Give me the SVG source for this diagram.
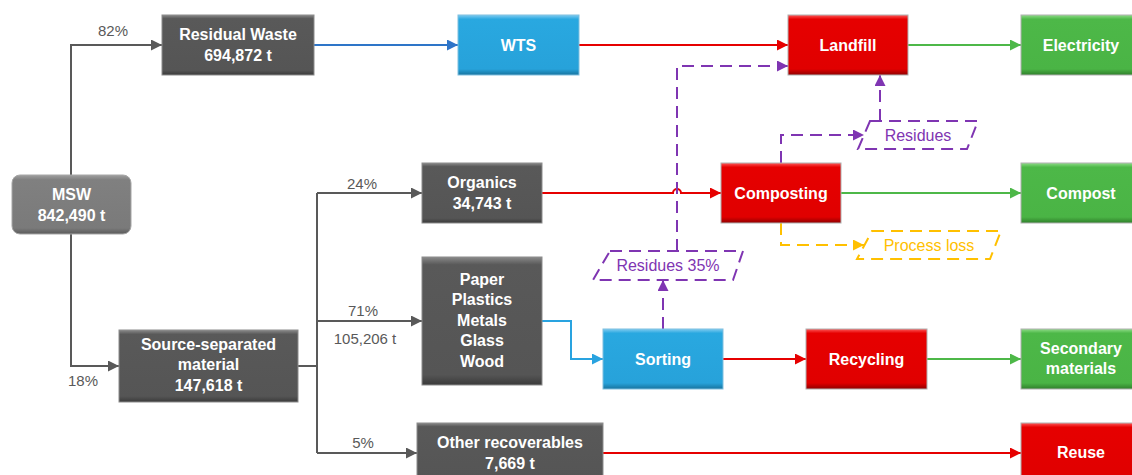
<svg xmlns="http://www.w3.org/2000/svg" width="1132" height="475" viewBox="0 0 1132 475">
<style>
.nt{font-family:"Liberation Sans",Arial,sans-serif;font-weight:bold;font-size:16px;fill:#ffffff;text-anchor:middle}
.lb{font-family:"Liberation Sans",Arial,sans-serif;font-size:15px;fill:#595959;text-anchor:middle}
.pl{font-family:"Liberation Sans",Arial,sans-serif;font-size:16px;text-anchor:middle}
.gray{fill:url(#gGray);stroke:#8c8c8c;stroke-width:1}
.msw{fill:url(#gMsw);stroke:#a6a6a6;stroke-width:1}
.blue{fill:url(#gBlue);stroke:#7fbfdf;stroke-width:1}
.red{fill:url(#gRed);stroke:#b0b0b0;stroke-width:1}
.green{fill:url(#gGreen);stroke:#b0b0b0;stroke-width:1}
.c{fill:none;stroke-width:2}
.cg{stroke:#595959}
.cb{stroke:#2e75c8}
.cl{stroke:#29a3e0}
.cr{stroke:#e60000}
.cn{stroke:#4db848}
.cp{stroke:#7f35b2;stroke-dasharray:12 7}
.cy{stroke:#ffc000;stroke-dasharray:12 7}
</style>
<defs>
<linearGradient id="gGray" x1="0" y1="0" x2="0" y2="1">
<stop offset="0" stop-color="#8a8a8a"/><stop offset="0.06" stop-color="#595959"/><stop offset="0.92" stop-color="#555555"/><stop offset="1" stop-color="#3a3a3a"/>
</linearGradient>
<linearGradient id="gMsw" x1="0" y1="0" x2="0" y2="1">
<stop offset="0" stop-color="#a0a0a0"/><stop offset="0.08" stop-color="#808080"/><stop offset="0.9" stop-color="#7a7a7a"/><stop offset="1" stop-color="#5a5a5a"/>
</linearGradient>
<linearGradient id="gBlue" x1="0" y1="0" x2="0" y2="1">
<stop offset="0" stop-color="#7fcbf0"/><stop offset="0.07" stop-color="#29a8e0"/><stop offset="0.9" stop-color="#27a2da"/><stop offset="1" stop-color="#17739e"/>
</linearGradient>
<linearGradient id="gRed" x1="0" y1="0" x2="0" y2="1">
<stop offset="0" stop-color="#ff5a5a"/><stop offset="0.07" stop-color="#e60000"/><stop offset="0.9" stop-color="#e00000"/><stop offset="1" stop-color="#900000"/>
</linearGradient>
<linearGradient id="gGreen" x1="0" y1="0" x2="0" y2="1">
<stop offset="0" stop-color="#8fdc88"/><stop offset="0.07" stop-color="#4db848"/><stop offset="0.9" stop-color="#4ab445"/><stop offset="1" stop-color="#2f7f2b"/>
</linearGradient>
<marker id="aGray" viewBox="0 0 10 10" refX="10" refY="5" markerUnits="userSpaceOnUse" markerWidth="11" markerHeight="11" orient="auto"><path d="M0,0 L10,5 L0,10 z" fill="#595959"/></marker>
<marker id="aBlueD" viewBox="0 0 10 10" refX="10" refY="5" markerUnits="userSpaceOnUse" markerWidth="11" markerHeight="11" orient="auto"><path d="M0,0 L10,5 L0,10 z" fill="#2e75c8"/></marker>
<marker id="aBlueL" viewBox="0 0 10 10" refX="10" refY="5" markerUnits="userSpaceOnUse" markerWidth="11" markerHeight="11" orient="auto"><path d="M0,0 L10,5 L0,10 z" fill="#29a3e0"/></marker>
<marker id="aRed" viewBox="0 0 10 10" refX="10" refY="5" markerUnits="userSpaceOnUse" markerWidth="11" markerHeight="11" orient="auto"><path d="M0,0 L10,5 L0,10 z" fill="#e60000"/></marker>
<marker id="aGreen" viewBox="0 0 10 10" refX="10" refY="5" markerUnits="userSpaceOnUse" markerWidth="11" markerHeight="11" orient="auto"><path d="M0,0 L10,5 L0,10 z" fill="#4db848"/></marker>
<marker id="aPurple" viewBox="0 0 10 10" refX="10" refY="5" markerUnits="userSpaceOnUse" markerWidth="11" markerHeight="11" orient="auto"><path d="M0,0 L10,5 L0,10 z" fill="#7f35b2"/></marker>
<marker id="aYellow" viewBox="0 0 10 10" refX="10" refY="5" markerUnits="userSpaceOnUse" markerWidth="11" markerHeight="11" orient="auto"><path d="M0,0 L10,5 L0,10 z" fill="#ffc000"/></marker>
</defs>
<rect width="1132" height="475" fill="#ffffff"/>

<g id="connectors">
<path class="c cg" d="M71,175 V45 H162" marker-end="url(#aGray)"/>
<path class="c cg" d="M71,234 V366 H119" marker-end="url(#aGray)"/>
<path class="c cg" d="M298,366 H317"/>
<path class="c cg" d="M317,193 V453"/>
<path class="c cg" d="M317,193 H422" marker-end="url(#aGray)"/>
<path class="c cg" d="M317,321 H422" marker-end="url(#aGray)"/>
<path class="c cg" d="M317,453 H417" marker-end="url(#aGray)"/>
<path class="c cb" d="M314,45 H458" marker-end="url(#aBlueD)"/>
<path class="c cr" d="M579,45 H788" marker-end="url(#aRed)"/>
<path class="c cn" d="M908,45 H1021" marker-end="url(#aGreen)"/>
<path class="c cr" d="M542,193 H673 A4,4 0 0 1 681,193 H721" marker-end="url(#aRed)"/>
<path class="c cn" d="M841,193 H1021" marker-end="url(#aGreen)"/>
<path class="c cl" d="M542,321 H571 V359 H603" marker-end="url(#aBlueL)"/>
<path class="c cr" d="M723,359 H806" marker-end="url(#aRed)"/>
<path class="c cn" d="M927,359 H1021" marker-end="url(#aGreen)"/>
<path class="c cr" d="M603,453 H1021" marker-end="url(#aRed)"/>
<path class="c cp" d="M677,251 V66 H788" marker-end="url(#aPurple)"/>
<path class="c cp" d="M663,329 V280" marker-end="url(#aPurple)"/>
<path class="c cp" d="M781,163 V135 H864" marker-end="url(#aPurple)"/>
<path class="c cp" d="M880,121 V75" marker-end="url(#aPurple)"/>
<path class="c cy" d="M781,223 V245 H864" marker-end="url(#aYellow)"/>
</g>

<g id="lbl-82"><text class="lb" x="113" y="36">82%</text></g>
<g id="lbl-18"><text class="lb" x="83" y="386">18%</text></g>
<g id="lbl-24"><text class="lb" x="362" y="189">24%</text></g>
<g id="lbl-71"><text class="lb" x="363" y="316">71%</text><text class="lb" x="365" y="344">105,206 t</text></g>
<g id="lbl-5"><text class="lb" x="363" y="448">5%</text></g>

<g id="msw"><rect class="msw" x="12" y="175" width="119" height="59" rx="8"/><text class="nt" x="71.5" y="200">MSW</text><text class="nt" x="71.5" y="221">842,490 t</text></g>
<g id="residual"><rect class="gray" x="162" y="15" width="152" height="60"/><text class="nt" x="238" y="40">Residual Waste</text><text class="nt" x="238" y="61">694,872 t</text></g>
<g id="wts"><rect class="blue" x="458" y="15" width="121" height="60"/><text class="nt" x="518.5" y="51">WTS</text></g>
<g id="landfill"><rect class="red" x="788" y="15" width="120" height="60"/><text class="nt" x="848" y="51">Landfill</text></g>
<g id="electricity"><rect class="green" x="1021" y="15" width="120" height="60"/><text class="nt" x="1081" y="51">Electricity</text></g>
<g id="source"><rect class="gray" x="119" y="330" width="179" height="72"/><text class="nt" x="208.5" y="350">Source-separated</text><text class="nt" x="208.5" y="370">material</text><text class="nt" x="208.5" y="391">147,618 t</text></g>
<g id="organics"><rect class="gray" x="422" y="163" width="120" height="60"/><text class="nt" x="482" y="188">Organics</text><text class="nt" x="482" y="209">34,743 t</text></g>
<g id="composting"><rect class="red" x="721" y="163" width="120" height="60"/><text class="nt" x="781" y="199">Composting</text></g>
<g id="compost"><rect class="green" x="1021" y="163" width="120" height="60"/><text class="nt" x="1081" y="199">Compost</text></g>
<g id="materials"><rect class="gray" x="422" y="257" width="120" height="128"/><text class="nt" x="482" y="285">Paper</text><text class="nt" x="482" y="305">Plastics</text><text class="nt" x="482" y="326">Metals</text><text class="nt" x="482" y="346">Glass</text><text class="nt" x="482" y="367">Wood</text></g>
<g id="sorting"><rect class="blue" x="603" y="329" width="120" height="60"/><text class="nt" x="663" y="365">Sorting</text></g>
<g id="recycling"><rect class="red" x="806" y="329" width="121" height="60"/><text class="nt" x="866.5" y="365">Recycling</text></g>
<g id="secondary"><rect class="green" x="1021" y="329" width="120" height="60"/><text class="nt" x="1081" y="354">Secondary</text><text class="nt" x="1081" y="374">materials</text></g>
<g id="other"><rect class="gray" x="417" y="423" width="186" height="60"/><text class="nt" x="510" y="448">Other recoverables</text><text class="nt" x="510" y="469">7,669 t</text></g>
<g id="reuse"><rect class="red" x="1021" y="423" width="120" height="60"/><text class="nt" x="1081" y="458">Reuse</text></g>

<g id="residues35"><path class="c cp" d="M610,251 H743 L733,280 H593 Z" fill="#ffffff"/><text class="pl" x="668" y="271" fill="#7f35b2">Residues 35%</text></g>
<g id="residues"><path class="c cp" d="M870,121 H978 L967,149 H858 Z" fill="#ffffff"/><text class="pl" x="918" y="141" fill="#7f35b2">Residues</text></g>
<g id="processloss"><path class="c cy" d="M872,231 H1001 L990,259 H857 Z" fill="#ffffff"/><text class="pl" x="929" y="251" fill="#ffc000">Process loss</text></g>
</svg>
